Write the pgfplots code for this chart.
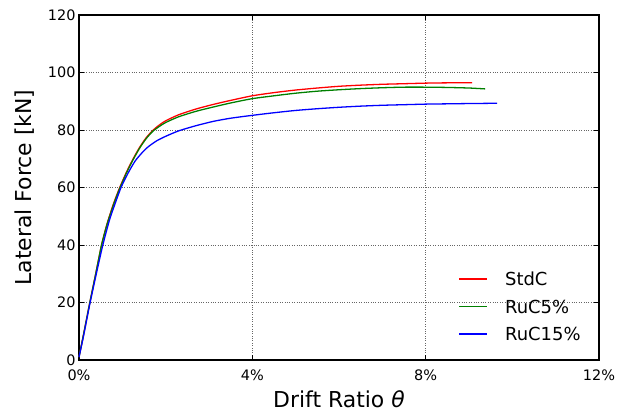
\documentclass[border=0pt]{standalone}
\usepackage{pgfplots}
\pgfplotsset{compat=1.18}
\usepackage{fontspec}
\setmainfont{DejaVu Sans}
\usetikzlibrary{calc}
\definecolor{mplgreen}{rgb}{0,0.5,0}
\begin{document}
\begin{tikzpicture}
\begin{axis}[
  name=ax,
  scale only axis,
  width=520bp, height=345bp,
  xmin=0, xmax=12, ymin=0, ymax=120,
  xtick={0,4,8,12}, xticklabels={0\%,4\%,8\%,12\%},
  ytick={0,20,40,60,80,100,120}, yticklabels={0,20,40,60,80,100,120},
  tick align=inside, tick pos=both,
  major tick length=5bp,
  every tick/.style={black, line width=0.8pt},
  axis line style={line width=1.1pt},
  grid=major,
  major grid style={black!60, dotted, line width=0.8pt},
  tick label style={font=\fontsize{14.5}{16}\selectfont},
  xticklabel style={yshift=-6bp},
  label style={font=\fontsize{22}{26}\selectfont},
  xlabel={Drift Ratio \textit{θ}},
  ylabel={Lateral Force [kN]},
  xlabel style={yshift=-3bp},
  ylabel style={yshift=7bp},
  clip=false,
]
\addplot[red, line width=1.3pt, smooth, tension=0.4] coordinates {
(0,1) (0.1,8.5) (0.25,20) (0.4,31) (0.52,40) (0.65,47.5) (0.8,54.5) (0.94,60) (1.1,65.5) (1.25,70) (1.4,74) (1.55,77.3) (1.7,79.8) (1.85,81.7) (2.0,83.2) (2.3,85.3) (2.7,87.3) (3.1,88.9) (3.5,90.3) (4,91.9) (4.5,93) (5,93.9) (5.5,94.6) (6,95.2) (6.5,95.6) (7,95.9) (7.5,96.1) (8,96.3) (8.5,96.4) (9.07,96.4)
};
\addplot[mplgreen, line width=1.3pt, smooth, tension=0.4] coordinates {
(0,1) (0.1,8.5) (0.25,20) (0.4,31) (0.52,40) (0.65,47.3) (0.8,54.2) (0.94,59.7) (1.1,65.2) (1.25,69.7) (1.4,73.7) (1.55,77) (1.7,79.5) (1.85,81.2) (2.0,82.6) (2.3,84.6) (2.7,86.5) (3.1,88) (3.5,89.4) (4,90.9) (4.5,91.9) (5,92.8) (5.5,93.5) (6,94) (6.5,94.4) (7,94.7) (7.5,94.9) (8,94.9) (8.5,94.8) (9,94.6) (9.37,94.3)
};
\addplot[blue, line width=1.3pt, smooth, tension=0.4] coordinates {
(0,1) (0.1,8) (0.25,19.5) (0.4,30) (0.55,40) (0.7,48.5) (0.8,53) (0.97,60) (1.15,65.5) (1.3,69.3) (1.45,72) (1.6,74.2) (1.8,76.3) (2.0,77.8) (2.3,79.7) (2.7,81.5) (3.1,83) (3.5,84.1) (4,85.1) (4.5,86) (5,86.8) (5.5,87.4) (6,87.9) (6.5,88.3) (7,88.6) (7.5,88.8) (8,89) (8.5,89.1) (9,89.2) (9.65,89.3)
};
% legend keys
\addplot[red, line width=1.3pt, forget plot] coordinates {(8.77,28.2) (9.42,28.2)};
\addplot[mplgreen, line width=1.3pt, forget plot] coordinates {(8.77,18.6) (9.42,18.6)};
\addplot[blue, line width=1.3pt, forget plot] coordinates {(8.77,9.0) (9.42,9.0)};
\node[anchor=west, inner sep=0pt, font=\fontsize{18}{20}\selectfont] at (axis cs:9.83,28.2) {StdC};
\node[anchor=west, inner sep=0pt, font=\fontsize{18}{20}\selectfont] at (axis cs:9.83,18.6) {RuC5\%};
\node[anchor=west, inner sep=0pt, font=\fontsize{18}{20}\selectfont] at (axis cs:9.83,9.0) {RuC15\%};
\end{axis}
\pgfresetboundingbox
\path ($(ax.south west)+(-79bp,-56bp)$) rectangle ($(ax.north east)+(30bp,15bp)$);
\end{tikzpicture}
\end{document}
